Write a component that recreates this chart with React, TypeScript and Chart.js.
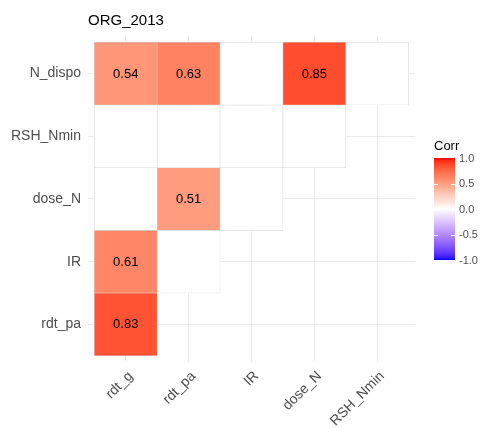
import { useEffect, useRef } from "react";
import { Chart, registerables } from "chart.js";

Chart.register(...registerables);

// Variables on each axis (x left to right, y bottom to top)
const xVars = ["rdt_g", "rdt_pa", "IR", "dose_N", "RSH_Nmin"];
const yVars = ["rdt_pa", "IR", "dose_N", "RSH_Nmin", "N_dispo"];

// Lower-triangle correlations, one array per row (bottom to top).
// null = pair not significant, tile left blank.
const corrRdtPa = [0.83];
const corrIR = [0.61, null];
const corrDoseN = [null, 0.51, null];
const corrRSHNmin = [null, null, null, null];
const corrNDispo = [0.54, 0.63, null, 0.85, null];
const corrRows: (number | null)[][] = [corrRdtPa, corrIR, corrDoseN, corrRSHNmin, corrNDispo];

const legendTicks = [1, 0.5, 0, -0.5, -1];

const FONT = "'Liberation Sans', Arial, sans-serif";

// ---- colour scale: blue - white - red, interpolated in CIELAB ----
type Lab = [number, number, number];
function rgbToLab(r: number, g: number, b: number): Lab {
  const lin = (c: number) => {
    c /= 255;
    return c <= 0.04045 ? c / 12.92 : Math.pow((c + 0.055) / 1.055, 2.4);
  };
  const R = lin(r), G = lin(g), B = lin(b);
  const X = (0.4124 * R + 0.3576 * G + 0.1805 * B) / 0.95047;
  const Y = 0.2126 * R + 0.7152 * G + 0.0722 * B;
  const Z = (0.0193 * R + 0.1192 * G + 0.9505 * B) / 1.08883;
  const f = (t: number) => (t > Math.pow(6 / 29, 3) ? Math.cbrt(t) : t / (3 * Math.pow(6 / 29, 2)) + 4 / 29);
  const fx = f(X), fy = f(Y), fz = f(Z);
  return [116 * fy - 16, 500 * (fx - fy), 200 * (fy - fz)];
}
function labToRgb([L, a, b]: Lab): string {
  const fy = (L + 16) / 116;
  const fx = fy + a / 500;
  const fz = fy - b / 200;
  const inv = (t: number) => (t > 6 / 29 ? t * t * t : 3 * Math.pow(6 / 29, 2) * (t - 4 / 29));
  const X = 0.95047 * inv(fx), Y = inv(fy), Z = 1.08883 * inv(fz);
  const r = 3.2406 * X - 1.5372 * Y - 0.4986 * Z;
  const g = -0.9689 * X + 1.8758 * Y + 0.0415 * Z;
  const bl = 0.0557 * X - 0.204 * Y + 1.057 * Z;
  const gam = (c: number) => {
    const v = c <= 0.0031308 ? 12.92 * c : 1.055 * Math.pow(c, 1 / 2.4) - 0.055;
    return Math.round(Math.max(0, Math.min(1, v)) * 255);
  };
  return `rgb(${gam(r)},${gam(g)},${gam(bl)})`;
}
const LAB_LOW = rgbToLab(0, 0, 255);
const LAB_MID = rgbToLab(255, 255, 255);
const LAB_HIGH = rgbToLab(255, 0, 0);
function corrColor(v: number): string {
  const t = Math.min(1, Math.abs(v));
  const end = v >= 0 ? LAB_HIGH : LAB_LOW;
  return labToRgb([
    LAB_MID[0] + (end[0] - LAB_MID[0]) * t,
    LAB_MID[1] + (end[1] - LAB_MID[1]) * t,
    LAB_MID[2] + (end[2] - LAB_MID[2]) * t,
  ]);
}

// Flatten rows into tile records
const cells = corrRows.flatMap((row, j) =>
  row.map((v, i) => ({ x: i + 1, y: j + 1, v }))
);

// Value labels printed in the centre of each significant tile
const valueLabels = {
  id: "valueLabels",
  afterDatasetsDraw(chart: any) {
    const ctx = chart.ctx;
    const meta = chart.getDatasetMeta(0);
    ctx.save();
    ctx.font = `13px ${FONT}`;
    ctx.fillStyle = "#000000";
    ctx.textAlign = "center";
    ctx.textBaseline = "middle";
    meta.data.forEach((el: any, k: number) => {
      const v = cells[k].v;
      if (v == null) return;
      const c = el.getCenterPoint();
      ctx.fillText(v.toFixed(2), c.x, c.y + 0.5);
    });
    ctx.restore();
  },
};

// Continuous colour bar legend ("Corr")
const colorBar = {
  id: "colorBar",
  afterDraw(chart: any) {
    const ctx = chart.ctx;
    const left = 434, width = 21, top = 158, height = 102;
    const yOf = (v: number) => top + ((1 - v) / 2) * height;
    ctx.save();
    const grad = ctx.createLinearGradient(0, top, 0, top + height);
    for (let s = 0; s <= 40; s++) {
      const v = 1 - (2 * s) / 40;
      grad.addColorStop(s / 40, corrColor(v));
    }
    ctx.fillStyle = grad;
    ctx.fillRect(left, top, width, height);

    ctx.strokeStyle = "#FFFFFF";
    ctx.lineWidth = 1;
    legendTicks.forEach((v) => {
      if (Math.abs(v) === 1) return;
      const y = Math.round(yOf(v)) + 0.5;
      ctx.beginPath();
      ctx.moveTo(left, y);
      ctx.lineTo(left + 4, y);
      ctx.moveTo(left + width - 4, y);
      ctx.lineTo(left + width, y);
      ctx.stroke();
    });

    ctx.fillStyle = "#000000";
    ctx.font = `13px ${FONT}`;
    ctx.textAlign = "left";
    ctx.textBaseline = "alphabetic";
    ctx.fillText("Corr", left, 150);

    ctx.fillStyle = "#4D4D4D";
    ctx.font = `11px ${FONT}`;
    ctx.textBaseline = "middle";
    legendTicks.forEach((v) => {
      ctx.fillText(v.toFixed(1), left + width + 4, yOf(v) + 0.5);
    });
    ctx.restore();
  },
};

export default function App() {
  const canvasRef = useRef<HTMLCanvasElement | null>(null);

  useEffect(() => {
    const canvas = canvasRef.current;
    if (!canvas) return;
    const chart = new Chart(canvas, {
      type: "bar",
      data: {
        datasets: [
          {
            data: cells.map((c) => ({ x: c.x, y: [c.y - 0.5, c.y + 0.5] })) as any,
            backgroundColor: cells.map((c) => (c.v == null ? "#FFFFFF" : corrColor(c.v))),
            borderColor: "#D6D6D6",
            borderWidth: 0.6,
            borderSkipped: false,
            barPercentage: 1,
            categoryPercentage: 1,
          },
        ],
      },
      options: {
        animation: false,
        responsive: false,
        events: [],
        layout: { padding: { left: 0, right: 69, top: 12, bottom: 0 } },
        plugins: {
          legend: { display: false },
          tooltip: { enabled: false },
          title: {
            display: true,
            text: "ORG_2013",
            align: "start",
            fullSize: false,
            color: "#000000",
            font: { family: FONT, size: 15, weight: "normal" },
            padding: { top: 0, bottom: 6 },
          },
        },
        scales: {
          x: {
            type: "linear",
            min: 0.4,
            max: 5.6,
            offset: false,
            afterBuildTicks: (scale: any) => {
              scale.ticks = xVars.map((_, i) => ({ value: i + 1 }));
            },
            afterFit: (scale: any) => {
              scale.height = 66;
              scale.paddingLeft = 0;
              scale.paddingRight = 0;
            },
            grid: { color: "#EBEBEB", lineWidth: 1, drawTicks: false, offset: false },
            border: { display: false },
            ticks: {
              autoSkip: false,
              minRotation: 45,
              maxRotation: 45,
              padding: 6,
              labelOffset: 5,
              color: "#4D4D4D",
              font: { family: FONT, size: 14 },
              callback: (v: any) => xVars[Number(v) - 1] ?? "",
            },
          },
          y: {
            type: "linear",
            min: 0.4,
            max: 5.6,
            afterBuildTicks: (scale: any) => {
              scale.ticks = yVars.map((_, i) => ({ value: i + 1 }));
            },
            afterFit: (scale: any) => {
              scale.width = 88;
              scale.paddingTop = 0;
              scale.paddingBottom = 0;
            },
            grid: { color: "#EBEBEB", lineWidth: 1, drawTicks: false },
            border: { display: false },
            ticks: {
              padding: 7,
              color: "#4D4D4D",
              font: { family: FONT, size: 14 },
              callback: (v: any) => yVars[Number(v) - 1] ?? "",
            },
          },
        },
      },
      plugins: [valueLabels, colorBar],
    });
    return () => chart.destroy();
  }, []);

  return (
    <div style={{ position: "fixed", left: 0, top: 0, width: 484, height: 428, background: "#FFFFFF" }}>
      <canvas ref={canvasRef} width={484} height={428} style={{ display: "block" }} />
    </div>
  );
}
